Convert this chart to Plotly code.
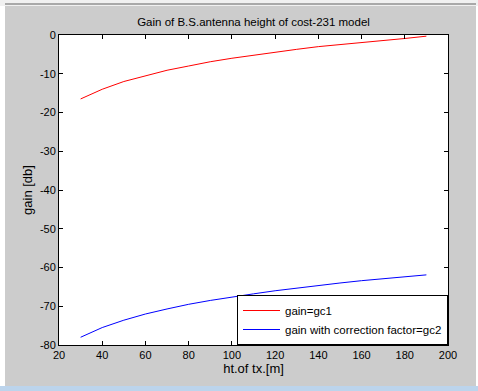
import plotly.graph_objects as go

heights = [30, 40, 50, 60, 70, 80, 90, 100, 110, 120, 130, 140, 150, 160, 170, 180, 190]
gc1 = [-16.5, -14.0, -12.0, -10.5, -9.1, -8.0, -6.9, -6.0, -5.2, -4.4, -3.7, -3.0, -2.5, -1.9, -1.4, -0.9, -0.3]
gc2 = [-78.0, -75.5, -73.6, -72.0, -70.7, -69.5, -68.5, -67.6, -66.8, -66.0, -65.3, -64.6, -64.0, -63.4, -62.9, -62.4, -61.9]
x_ticks = [20, 40, 60, 80, 100, 120, 140, 160, 180, 200]
y_ticks = [0, -10, -20, -30, -40, -50, -60, -70, -80]
y_tick_labels = ["0", "-10", "-20", "-30", "-40", "-50", "-60", "-70", "-80"]

W, H = 478, 391
L, R, T, B = 59, 448, 35, 345


def px(x):
    return (x - L) / (R - L)


def py(y):
    return (B - y) / (B - T)


fig = go.Figure()
fig.add_trace(go.Scatter(x=heights, y=gc1, mode="lines", name="gain=gc1",
                         line=dict(color="#ff0000", width=1)))
fig.add_trace(go.Scatter(x=heights, y=gc2, mode="lines", name="gain with correction factor=gc2",
                         line=dict(color="#0000ff", width=1)))

font = dict(family="Liberation Sans, Arial, sans-serif", size=11, color="#000000")

shapes = [
    dict(type="rect", xref="paper", yref="paper", x0=px(0), x1=px(5), y0=py(0), y1=py(391),
         fillcolor="#ffffff", line=dict(width=0), layer="below"),
    dict(type="rect", xref="paper", yref="paper", x0=px(476), x1=px(478), y0=py(0), y1=py(391),
         fillcolor="#ffffff", line=dict(width=0), layer="below"),
    dict(type="rect", xref="paper", yref="paper", x0=px(0), x1=px(478), y0=py(0), y1=py(6),
         fillcolor="#f0f0f0", line=dict(width=0), layer="below"),
    dict(type="rect", xref="paper", yref="paper", x0=px(5), x1=px(476), y0=py(3), y1=py(5),
         fillcolor="#a8a8a8", line=dict(width=0), layer="below"),
    dict(type="rect", xref="paper", yref="paper", x0=px(0), x1=px(478), y0=py(386), y1=py(391),
         fillcolor="#bcd4ec", line=dict(width=0), layer="below"),
]

fig.update_layout(
    width=W, height=H,
    margin=dict(l=L, r=W - R, t=T, b=H - B, pad=0),
    paper_bgcolor="#cccccc",
    plot_bgcolor="#ffffff",
    font=font,
    title=dict(text="Gain of B.S.antenna height of cost-231 model", x=(L + R) / 2 / W,
               xanchor="center", y=1 - 22 / H, yanchor="middle", font=dict(size=11.5)),
    showlegend=True,
    legend=dict(x=1, y=0, xanchor="right", yanchor="bottom", bgcolor="#ffffff",
                bordercolor="#000000", borderwidth=1, font=dict(size=11.5),
                tracegroupgap=0, itemwidth=37),
    shapes=shapes,
)

fig.update_xaxes(range=[20, 200], tickvals=x_ticks, ticks="inside", ticklen=4,
                 tickcolor="#000000", showline=True, linecolor="#000000", linewidth=1,
                 mirror="ticks", showgrid=False, zeroline=False,
                 title=dict(text="ht.of tx.[m]", standoff=0), tickfont=font)
fig.update_yaxes(range=[-80, 0], tickvals=y_ticks, ticktext=y_tick_labels, ticks="inside",
                 ticklen=4, tickcolor="#000000", showline=True, linecolor="#000000", linewidth=1,
                 mirror="ticks", showgrid=False, zeroline=False,
                 title=dict(text="gain [db]", standoff=4), tickfont=font)

fig.write_html("out.html")
